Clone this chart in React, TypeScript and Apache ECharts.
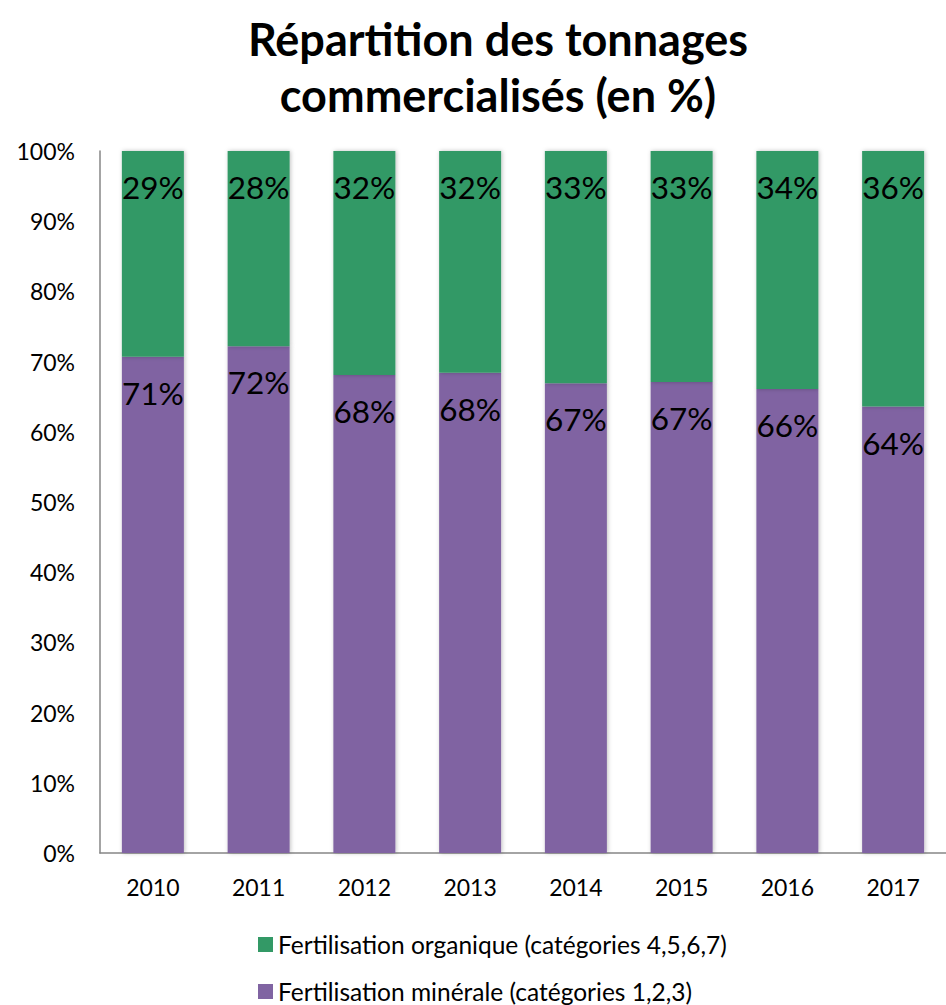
import React, { useEffect, useRef } from "react";
import * as echarts from "echarts";

const years = ["2010", "2011", "2012", "2013", "2014", "2015", "2016", "2017"];
const minerale = [70.7, 72.2, 68.1, 68.4, 66.9, 67.1, 66.1, 63.6];
const organique = [29.3, 27.8, 31.9, 31.6, 33.1, 32.9, 33.9, 36.4];
const yTicks = [0, 10, 20, 30, 40, 50, 60, 70, 80, 90, 100];
const nameMin = "Fertilisation minérale (catégories 1,2,3)";
const nameOrg = "Fertilisation organique (catégories 4,5,6,7)";

const FONT = "Lato, 'Open Sans', sans-serif";

export default function App() {
  const ref = useRef<HTMLDivElement>(null);
  useEffect(() => {
    if (!ref.current) return;
    const chart = echarts.init(ref.current, undefined, { renderer: "svg" });
    const labelCfg = {
      show: true,
      position: "insideTop" as const,
      distance: 20,
      color: "#000",
      fontSize: 31.5,
      fontFamily: FONT,
      formatter: (p: any) => Math.round(p.value) + "%",
    };
    const legendBase = {
      orient: "horizontal" as const,
      left: 258,
      itemWidth: 15,
      itemHeight: 15,
      itemGap: 10,
      icon: "rect",
      padding: 0,
      textStyle: { fontFamily: FONT, fontSize: 24.5, color: "#000", lineHeight: 24 },
    };
    chart.setOption({
      animation: false,
      backgroundColor: "#fff",
      textStyle: { fontFamily: FONT },
      title: {
        text: "Répartition des tonnages\ncommercialisés (en %)",
        left: 493,
        textAlign: "center",
        top: 6,
        textStyle: {
          fontFamily: FONT,
          fontWeight: "bold",
          fontSize: 45,
          lineHeight: 56,
          color: "#000",
        },
      },
      legend: [
        { ...legendBase, top: 932, data: [nameOrg] },
        { ...legendBase, top: 979, data: [nameMin] },
      ],
      grid: { left: 100, top: 151, width: 857, height: 702, containLabel: false },
      xAxis: {
        type: "category",
        data: years,
        axisLine: { lineStyle: { color: "#868686", width: 1.5 } },
        axisTick: { show: false },
        axisLabel: { color: "#000", fontSize: 23, fontFamily: FONT, margin: 22 },
      },
      yAxis: {
        type: "value",
        min: 0,
        max: 100,
        interval: 10,
        axisLine: { show: true, lineStyle: { color: "#868686", width: 1.5 } },
        axisTick: { show: false },
        splitLine: { show: false },
        axisLabel: {
          color: "#000",
          fontSize: 23,
          fontFamily: FONT,
          margin: 25,
          formatter: (v: number) => (yTicks.includes(v) ? v + "%" : ""),
        },
      },
      series: [
        {
          name: nameMin,
          type: "bar",
          stack: "total",
          barWidth: 62,
          data: minerale,
          itemStyle: {
            color: "#8064A2",
            shadowColor: "rgba(0,0,0,0.25)",
            shadowBlur: 4,
            shadowOffsetX: 1,
          },
          label: labelCfg,
        },
        {
          name: nameOrg,
          type: "bar",
          stack: "total",
          barWidth: 62,
          data: organique,
          itemStyle: {
            color: "#339966",
            shadowColor: "rgba(0,0,0,0.25)",
            shadowBlur: 4,
            shadowOffsetX: 1,
          },
          label: labelCfg,
        },
      ],
    });
    return () => chart.dispose();
  }, []);
  return (
    <div
      ref={ref}
      style={{ position: "absolute", left: 0, top: 0, width: 946, height: 1005 }}
    />
  );
}
